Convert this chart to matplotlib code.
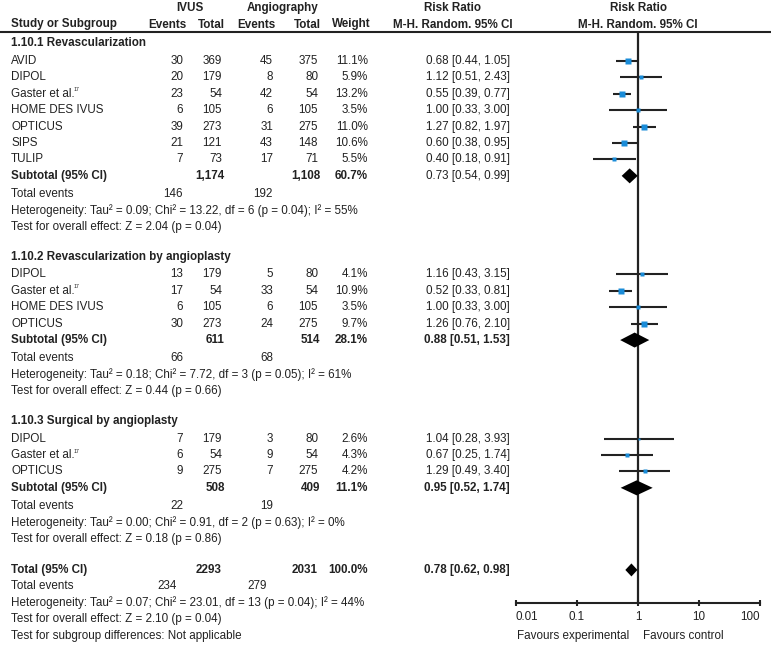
import numpy as np
import matplotlib
matplotlib.use('Agg')
import matplotlib.pyplot as plt
from matplotlib import font_manager

# pick a narrow sans if there is one, otherwise squeeze the normal one
try:
    font_manager.findfont('Liberation Sans Narrow', fallback_to_default=False)
    FONT, FS = 'Liberation Sans Narrow', 10.2
except Exception:
    FONT, FS = 'Liberation Sans', 8.4
plt.rcParams['font.family'] = [FONT, 'DejaVu Sans']

# ---- data ----
names1 = ['AVID', 'DIPOL', 'Gaster et al.', 'HOME DES IVUS', 'OPTICUS', 'SIPS', 'TULIP']
ivus_ev1 = [30, 20, 23, 6, 39, 21, 7]
ivus_n1 = [369, 179, 54, 105, 273, 121, 73]
ang_ev1 = [45, 8, 42, 6, 31, 43, 17]
ang_n1 = [375, 80, 54, 105, 275, 148, 71]
weight1 = [11.1, 5.9, 13.2, 3.5, 11.0, 10.6, 5.5]
rr1 = [0.68, 1.12, 0.55, 1.00, 1.27, 0.60, 0.40]
lo1 = [0.44, 0.51, 0.39, 0.33, 0.82, 0.38, 0.18]
hi1 = [1.05, 2.43, 0.77, 3.00, 1.97, 0.95, 0.91]

names2 = ['DIPOL', 'Gaster et al.', 'HOME DES IVUS', 'OPTICUS']
ivus_ev2 = [13, 17, 6, 30]
ivus_n2 = [179, 54, 105, 273]
ang_ev2 = [5, 33, 6, 24]
ang_n2 = [80, 54, 105, 275]
weight2 = [4.1, 10.9, 3.5, 9.7]
rr2 = [1.16, 0.52, 1.00, 1.26]
lo2 = [0.43, 0.33, 0.33, 0.76]
hi2 = [3.15, 0.81, 3.00, 2.10]

names3 = ['DIPOL', 'Gaster et al.', 'OPTICUS']
ivus_ev3 = [7, 6, 9]
ivus_n3 = [179, 54, 275]
ang_ev3 = [3, 9, 7]
ang_n3 = [80, 54, 275]
weight3 = [2.6, 4.3, 4.2]
rr3 = [1.04, 0.67, 1.29]
lo3 = [0.28, 0.25, 0.49]
hi3 = [3.93, 1.74, 3.40]

group_titles = ['1.10.1 Revascularization', '1.10.2 Revascularization by angioplasty',
                '1.10.3 Surgical by angioplasty']
sub_ivus_n = ['1,174', '611', '508']
sub_ang_n = ['1,108', '514', '409']
sub_weight = ['60.7%', '28.1%', '11.1%']
sub_rr = [0.73, 0.88, 0.95]
sub_lo = [0.54, 0.51, 0.52]
sub_hi = [0.99, 1.53, 1.74]
sub_ivus_ev = [146, 66, 22]
sub_ang_ev = [192, 68, 19]
sub_het = ['Tau² = 0.09; Chi² = 13.22, df = 6 (p = 0.04); I² = 55%',
           'Tau² = 0.18; Chi² = 7.72, df = 3 (p = 0.05); I² = 61%',
           'Tau² = 0.00; Chi² = 0.91, df = 2 (p = 0.63); I² = 0%']
sub_z = ['Z = 2.04 (p = 0.04)', 'Z = 0.44 (p = 0.66)', 'Z = 0.18 (p = 0.86)']

tot_ivus_n, tot_ang_n, tot_weight = '2293', '2031', '100.0%'
tot_rr, tot_lo, tot_hi = 0.78, 0.62, 0.98
tot_ivus_ev, tot_ang_ev = 234, 279
tot_het = 'Tau² = 0.07; Chi² = 23.01, df = 13 (p = 0.04); I² = 44%'
tot_z = 'Z = 2.10 (p = 0.04)'

ticks = [0.01, 0.1, 1, 10, 100]
tick_labels = ['0.01', '0.1', '1', '10', '100']

groups = [
    (names1, ivus_ev1, ivus_n1, ang_ev1, ang_n1, weight1, rr1, lo1, hi1),
    (names2, ivus_ev2, ivus_n2, ang_ev2, ang_n2, weight2, rr2, lo2, hi2),
    (names3, ivus_ev3, ivus_n3, ang_ev3, ang_n3, weight3, rr3, lo3, hi3),
]

# ---- layout (pixels) ----
W, H = 771, 647
Y0, STEP = 44.5, 16.42
X_NAME, X_IEV, X_IN, X_AEV, X_AN, X_W, X_RR = 11, 183, 222, 273, 318, 368, 510
BLUE = '#1a8cd8'
INK = '#222222'

fig = plt.figure(figsize=(W / 100, H / 100), dpi=100)
tx = fig.add_axes([0, 0, 1, 1])
tx.set_xlim(0, W)
tx.set_ylim(H, 0)
tx.axis('off')

ax = fig.add_axes([516 / W, (H - 603) / H, 244 / W, (603 - 32) / H])
ax.set_xscale('log')
ax.set_xlim(0.01, 100)
ax.set_ylim(603, 32)
ax.patch.set_alpha(0)


def row_y(i):
    return Y0 + i * STEP


def put(x, y, s, ha='left', bold=False, size=FS):
    tx.text(x, y, s, ha=ha, va='center', fontsize=size,
            fontweight='bold' if bold else 'normal', color=INK)


def fmt_ci(r, l, h):
    return f'{r:.2f} [{l:.2f}, {h:.2f}]'


def diamond(r, l, h, y, half=7.5):
    ax.fill([l, r, h, r], [y, y - half, y, y + half], color='black', lw=0, zorder=4)


# headers
put(190, 8, 'IVUS', ha='center', bold=True)
put(283, 8, 'Angiography', ha='center', bold=True)
put(X_NAME, 24.5, 'Study or Subgroup', bold=True)
put(167, 24.5, 'Events', ha='center', bold=True)
put(211, 24.5, 'Total', ha='center', bold=True)
put(256, 24.5, 'Events', ha='center', bold=True)
put(307, 24.5, 'Total', ha='center', bold=True)
put(351, 24.5, 'Weight', ha='center', bold=True)
for xc in (453, 638):
    put(xc, 8, 'Risk Ratio', ha='center', bold=True)
    put(xc, 24.5, 'M-H. Random. 95% CI', ha='center', bold=True)
tx.plot([0, W], [32, 32], color=INK, lw=1.5)

i = 0
for g, (names, iev, inn, aev, ann, w, rr, lo, hi) in enumerate(groups):
    put(X_NAME, row_y(i) - 1, group_titles[g], bold=True)
    i += 1
    for k in range(len(names)):
        y = row_y(i)
        put(X_NAME, y, names[k])
        if names[k].startswith('Gaster'):
            put(74, y - 4, '17', size=FS * 0.45)
        put(X_IEV, y, str(iev[k]), ha='right')
        put(X_IN, y, str(inn[k]), ha='right')
        put(X_AEV, y, str(aev[k]), ha='right')
        put(X_AN, y, str(ann[k]), ha='right')
        put(X_W, y, f'{w[k]:.1f}%', ha='right')
        put(X_RR, y, fmt_ci(rr[k], lo[k], hi[k]), ha='right')
        ax.plot([lo[k], hi[k]], [y, y], color=INK, lw=1.5, zorder=2, solid_capstyle='butt')
        ax.plot(rr[k], y, marker='s', ms=1.25 * np.sqrt(w[k]), color=BLUE, mec='none', zorder=3)
        i += 1
    y = row_y(i)
    put(X_NAME, y, 'Subtotal (95% CI)', bold=True)
    put(X_IN + 3, y, sub_ivus_n[g], ha='right', bold=True)
    put(X_AN + 2, y, sub_ang_n[g], ha='right', bold=True)
    put(X_W, y, sub_weight[g], ha='right', bold=True)
    put(X_RR, y, fmt_ci(sub_rr[g], sub_lo[g], sub_hi[g]), ha='right', bold=(g > 0))
    diamond(sub_rr[g], sub_lo[g], sub_hi[g], y)
    put(X_NAME, row_y(i + 1) + 1.5, 'Total events')
    put(X_IEV, row_y(i + 1) + 1.5, str(sub_ivus_ev[g]), ha='right')
    put(X_AEV, row_y(i + 1) + 1.5, str(sub_ang_ev[g]), ha='right')
    put(X_NAME, row_y(i + 2) + 2, 'Heterogeneity: ' + sub_het[g])
    put(X_NAME, row_y(i + 3) + 2, 'Test for overall effect: ' + sub_z[g])
    i += 5

y = row_y(i)
put(X_NAME, y, 'Total (95% CI)', bold=True)
put(X_IN, y, tot_ivus_n, ha='right', bold=True)
put(X_AN, y, tot_ang_n, ha='right', bold=True)
put(X_W, y, tot_weight, ha='right', bold=True)
put(X_RR, y, fmt_ci(tot_rr, tot_lo, tot_hi), ha='right', bold=True)
diamond(tot_rr, tot_lo, tot_hi, y, half=6.5)
put(X_NAME, row_y(i + 1), 'Total events')
put(X_IEV - 6, row_y(i + 1), str(tot_ivus_ev), ha='right')
put(X_AEV - 6, row_y(i + 1), str(tot_ang_ev), ha='right')
put(X_NAME, row_y(i + 2), 'Heterogeneity: ' + tot_het)
put(X_NAME, row_y(i + 3), 'Test for overall effect: ' + tot_z)
put(X_NAME, row_y(i + 4), 'Test for subgroup differences: Not applicable')

# forest axis
ax.axvline(1, color=INK, lw=1.6, zorder=1)
for s in ('top', 'left', 'right'):
    ax.spines[s].set_visible(False)
ax.spines['bottom'].set_linewidth(1.5)
ax.spines['bottom'].set_color(INK)
ax.set_yticks([])
ax.set_xticks(ticks)
ax.set_xticklabels(tick_labels)
ax.minorticks_off()
ax.tick_params(axis='x', direction='inout', length=5, width=1.5, color=INK,
               labelsize=FS, labelcolor=INK, pad=3)
labs = ax.get_xticklabels()
labs[0].set_ha('left')
labs[-1].set_ha('right')

put(517, 636, 'Favours experimental')
put(643, 636, 'Favours control')

fig.savefig('out.png', dpi=100)
